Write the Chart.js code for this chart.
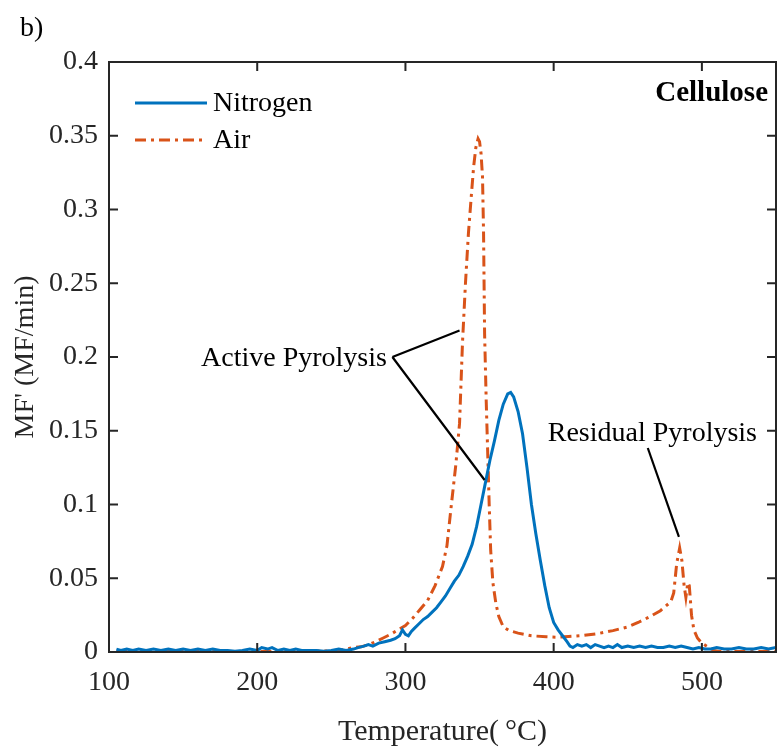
<!DOCTYPE html>
<html lang="en">
<head>
<meta charset="UTF-8">
<title>Cellulose MF'</title>
<script src="https://cdn.jsdelivr.net/npm/chart.js"></script>
<style>
  body { margin: 0; background: #fff; }
</style>
</head>
<body>
<canvas id="mfChart" width="778" height="750"></canvas>
<script>
// values
const xTicks = [100, 200, 300, 400, 500];
const yTicks = [0, 0.05, 0.1, 0.15, 0.2, 0.25, 0.3, 0.35, 0.4];

const nitrogenTemp = [105, 108, 112, 116, 120, 125, 130, 135, 140, 145, 150, 155, 160, 165, 170, 175, 180, 185, 190, 195,
  200, 203, 207, 210, 214, 218, 222, 226, 230, 235, 240, 245, 250, 255, 260, 265, 268, 272, 275, 278,
  282, 286, 290, 293, 296, 298, 300, 302, 304, 306, 309, 312, 315, 318, 321, 324, 327, 330, 333, 336,
  339, 342, 345, 348, 351, 354, 357, 360, 363, 366, 369, 371, 373, 376, 379, 382, 385, 388, 391, 394,
  397, 400, 403, 406, 409, 411, 413, 416, 419, 422, 425, 428, 431, 434, 437, 440, 443, 446, 450, 454,
  458, 462, 466, 470, 474, 478, 482, 486, 490, 494, 498, 502, 506, 510, 515, 520, 525, 530, 535, 540, 545, 550];
const nitrogenMF = [0.002, 0.001, 0.002, 0.001, 0.002, 0.001, 0.002, 0.001, 0.002, 0.001, 0.002, 0.001, 0.002, 0.001, 0.002, 0.001, 0.001, 0.0005, 0.001, 0.002,
  0.001, 0.003, 0.002, 0.003, 0.001, 0.002, 0.001, 0.002, 0.001, 0.001, 0.001, 0.0005, 0.001, 0.002, 0.001, 0.002, 0.003, 0.004, 0.005, 0.004,
  0.006, 0.007, 0.008, 0.009, 0.011, 0.015, 0.012, 0.011, 0.014, 0.016, 0.019, 0.022, 0.024, 0.027, 0.030, 0.034, 0.038, 0.043, 0.048, 0.052,
  0.058, 0.065, 0.073, 0.085, 0.100, 0.115, 0.130, 0.143, 0.157, 0.168, 0.175, 0.176, 0.173, 0.163, 0.148, 0.125, 0.100, 0.080, 0.062, 0.045,
  0.030, 0.020, 0.015, 0.011, 0.007, 0.004, 0.003, 0.005, 0.004, 0.005, 0.003, 0.005, 0.004, 0.003, 0.004, 0.003, 0.005, 0.003, 0.004, 0.003,
  0.004, 0.003, 0.004, 0.003, 0.003, 0.004, 0.003, 0.004, 0.003, 0.002, 0.003, 0.002, 0.002, 0.003, 0.002, 0.002, 0.003, 0.002, 0.002, 0.003, 0.002, 0.003];

const airTemp = [105, 130, 160, 190, 220, 250, 255, 260, 265, 270, 275, 280, 285, 290, 295, 300, 305, 310, 315, 320,
  325, 328, 331, 334, 336.5, 338.5, 340.5, 342.5, 344.5, 346, 347.5, 349, 350, 351, 352, 352.7, 353.4, 354.5, 355.5, 356.5,
  357.5, 359, 361, 363, 366, 370, 376, 385, 395, 403, 410, 420, 430, 440, 450, 457, 465, 472, 479, 481,
  483, 485, 486.5, 488, 489.2, 490.5, 491.5, 493, 494.6, 497, 500, 504, 508, 512, 520, 535, 550];
const airMF = [0.0003, 0.0003, 0.0003, 0.0003, 0.0004, 0.0007, 0.001, 0.002, 0.003, 0.0035, 0.005, 0.007, 0.0095, 0.012, 0.015, 0.018, 0.023, 0.029, 0.035, 0.045,
  0.058, 0.072, 0.100, 0.127, 0.155, 0.210, 0.250, 0.284, 0.310, 0.329, 0.342, 0.348, 0.346, 0.338, 0.322, 0.284, 0.216, 0.170, 0.135, 0.100,
  0.069, 0.047, 0.033, 0.024, 0.017, 0.0145, 0.0128, 0.011, 0.0103, 0.010, 0.0105, 0.0112, 0.0125, 0.0145, 0.017, 0.020, 0.024, 0.028, 0.034, 0.040,
  0.060, 0.0705, 0.062, 0.045, 0.037, 0.047, 0.045, 0.025, 0.015, 0.0095, 0.006, 0.0035, 0.001, 0.0003, 0.0003, 0.0003, 0.0003];

const blue = '#0072BD';
const orange = '#D95319';
const axisColor = '#262626';
const serif = '"Liberation Serif", "Times New Roman", serif';
const airDash = [11, 5, 3, 5];

// annotations in data units
const notes = [
  { text: 'Active Pyrolysis', x: 287.5, y: 0.199, align: 'right',
    lines: [[291.2, 0.2, 336.5, 0.218], [291.2, 0.2, 353.4, 0.1166]] },
  { text: 'Residual Pyrolysis', x: 466.6, y: 0.148, align: 'center',
    lines: [[463.5, 0.1383, 484.5, 0.078]] }
];

const frame = {
  id: 'frame',
  afterDatasetsDraw(chart) {
    const { ctx, chartArea: a, scales: { x, y } } = chart;
    ctx.save();
    ctx.strokeStyle = axisColor;
    ctx.lineWidth = 2;
    ctx.beginPath();
    xTicks.forEach(v => {
      const px = x.getPixelForValue(v);
      ctx.moveTo(px, a.bottom); ctx.lineTo(px, a.bottom - 9);
      ctx.moveTo(px, a.top); ctx.lineTo(px, a.top + 9);
    });
    yTicks.forEach(v => {
      const py = y.getPixelForValue(v);
      ctx.moveTo(a.left, py); ctx.lineTo(a.left + 9, py);
      ctx.moveTo(a.right, py); ctx.lineTo(a.right - 9, py);
    });
    ctx.stroke();
    ctx.strokeRect(a.left, a.top, a.right - a.left, a.bottom - a.top);

    // annotations
    ctx.strokeStyle = '#000';
    ctx.fillStyle = '#000';
    ctx.lineWidth = 2.2;
    ctx.font = '28px ' + serif;
    ctx.textBaseline = 'middle';
    notes.forEach(n => {
      ctx.textAlign = n.align;
      ctx.fillText(n.text, x.getPixelForValue(n.x), y.getPixelForValue(n.y));
      ctx.beginPath();
      n.lines.forEach(l => {
        ctx.moveTo(x.getPixelForValue(l[0]), y.getPixelForValue(l[1]));
        ctx.lineTo(x.getPixelForValue(l[2]), y.getPixelForValue(l[3]));
      });
      ctx.stroke();
    });

    // legend
    const items = [
      { label: 'Nitrogen', color: blue, dash: [] },
      { label: 'Air', color: orange, dash: airDash }
    ];
    ctx.textAlign = 'left';
    items.forEach((it, i) => {
      const ly = a.top + 41 + i * 37;
      ctx.strokeStyle = it.color;
      ctx.lineWidth = 3;
      ctx.setLineDash(it.dash);
      ctx.beginPath();
      ctx.moveTo(a.left + 26, ly);
      ctx.lineTo(a.left + 98, ly);
      ctx.stroke();
      ctx.setLineDash([]);
      ctx.fillStyle = '#000';
      ctx.fillText(it.label, a.left + 104, ly + 1);
    });

    // sample name and panel letter
    ctx.font = 'bold 29px ' + serif;
    ctx.textAlign = 'right';
    ctx.fillText('Cellulose', a.right - 8, a.top + 32);
    ctx.font = '28px ' + serif;
    ctx.textAlign = 'left';
    ctx.textBaseline = 'alphabetic';
    ctx.fillText('b)', 20, 36);
    ctx.restore();
  }
};

new Chart(document.getElementById('mfChart'), {
  type: 'line',
  data: {
    datasets: [
      {
        label: 'Nitrogen',
        data: nitrogenTemp.map((t, i) => ({ x: t, y: nitrogenMF[i] })),
        borderColor: blue,
        borderWidth: 3,
        pointRadius: 0,
        tension: 0
      },
      {
        label: 'Air',
        data: airTemp.map((t, i) => ({ x: t, y: airMF[i] })),
        borderColor: orange,
        borderWidth: 3,
        borderDash: airDash,
        pointRadius: 0,
        tension: 0
      }
    ]
  },
  options: {
    responsive: false,
    animation: false,
    layout: { padding: { top: 62, right: 2, left: 0, bottom: 0 } },
    plugins: { legend: { display: false }, tooltip: { enabled: false } },
    scales: {
      x: {
        type: 'linear',
        min: 100, max: 550,
        afterBuildTicks: s => { s.ticks = xTicks.map(v => ({ value: v })); },
        afterFit: s => { s.height = 98; },
        grid: { display: false, drawTicks: false, tickLength: 0 },
        border: { display: false },
        ticks: { color: axisColor, font: { family: serif, size: 28 }, padding: 14, maxRotation: 0 },
        title: { display: true, text: 'Temperature(\u2009°C)', color: axisColor,
          font: { family: serif, size: 30 }, padding: { top: 0, bottom: 0 } }
      },
      y: {
        min: 0, max: 0.4,
        afterBuildTicks: s => { s.ticks = yTicks.map(v => ({ value: v })); },
        afterFit: s => { s.width = 109; },
        grid: { display: false, drawTicks: false, tickLength: 0 },
        border: { display: false },
        ticks: { color: axisColor, font: { family: serif, size: 28 }, padding: 11,
          callback: v => String(+v.toFixed(2)) },
        title: { display: true, text: "MF' (MF/min)", color: axisColor,
          font: { family: serif, size: 28 }, padding: { top: 9, bottom: 0 } }
      }
    }
  },
  plugins: [frame]
});
</script>
</body>
</html>
